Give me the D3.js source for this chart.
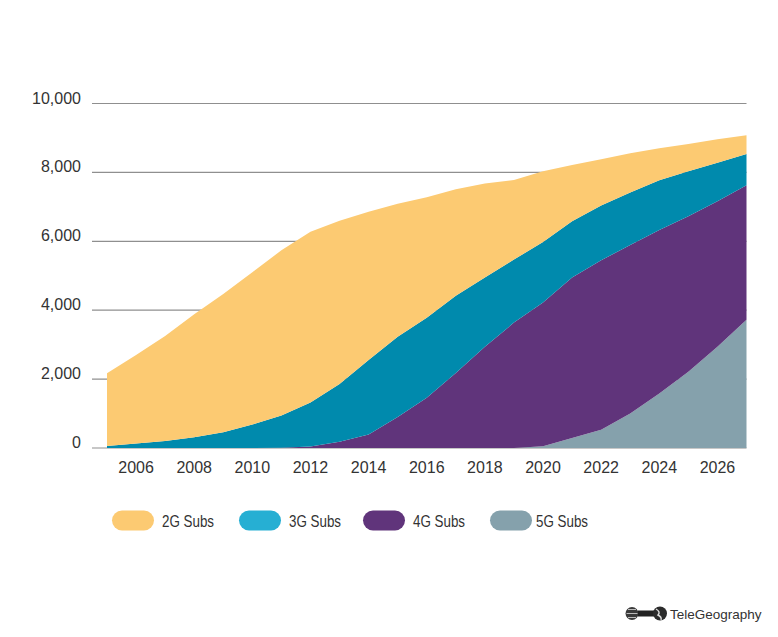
<!DOCTYPE html>
<html>
<head>
    <title>Mobile Subscriptions by Technology</title>
    <script src="https://d3js.org/d3.v7.min.js"></script>
    <style>
        body { margin: 0; background: #fff; }
        text { font-family: "Liberation Sans", Arial, Helvetica, sans-serif; }
        .grid line { stroke: #8f8f8f; stroke-width: 1.2; }
    </style>
</head>
<body>
    <svg width="778" height="637"></svg>
    <script>

        // Data (millions of subscriptions)
        const years = [2005, 2006, 2007, 2008, 2009, 2010, 2011, 2012, 2013, 2014, 2015, 2016,
                       2017, 2018, 2019, 2020, 2021, 2022, 2023, 2024, 2025, 2026, 2027];
        const subs2G = [2110, 2570, 3050, 3570, 4010, 4420, 4800, 4960, 4740, 4305, 3860, 3500,
                        3090, 2730, 2310, 2050, 1635, 1340, 1135, 930, 795, 680, 540];
        const subs3G = [60, 130, 200, 310, 460, 680, 935, 1280, 1680, 2165, 2330, 2320,
                        2240, 2010, 1830, 1760, 1630, 1590, 1530, 1440, 1300, 1120, 905];
        const subs4G = [0, 0, 0, 0, 0, 0, 5, 40, 180, 390, 900, 1460,
                        2180, 2940, 3640, 4170, 4660, 4920, 4885, 4750, 4515, 4220, 3910];
        const subs5G = [0, 0, 0, 0, 0, 0, 0, 0, 0, 0, 0, 0,
                        0, 0, 0, 50, 290, 530, 1005, 1580, 2215, 2940, 3720];

        const yTicks = [0, 2000, 4000, 6000, 8000, 10000];
        const xTicks = [2006, 2008, 2010, 2012, 2014, 2016, 2018, 2020, 2022, 2024, 2026];

        const seriesNames = ["2G Subs", "3G Subs", "4G Subs", "5G Subs"];
        const areaColors = ["#fcca72", "#008aad", "#60347b", "#85a1ac"];
        const legendColors = ["#fcca72", "#26afd3", "#60347b", "#85a1ac"];

        const table = years.map((yr, i) => ({
            year: yr, "2G Subs": subs2G[i], "3G Subs": subs3G[i], "4G Subs": subs4G[i], "5G Subs": subs5G[i]
        }));

        const svg = d3.select("svg");

        const x = d3.scaleLinear().domain([2005, 2027]).range([107, 746.5]);
        const y = d3.scaleLinear().domain([0, 10000]).range([448, 103.5]);

        // Grid lines behind the areas
        svg.append("g")
            .attr("class", "grid")
            .selectAll("line")
            .data(yTicks)
            .join("line")
            .attr("x1", 92)
            .attr("x2", 746.5)
            .attr("y1", d => y(d))
            .attr("y2", d => y(d));

        // Y labels sit on top of their line
        svg.append("g")
            .selectAll("text")
            .data(yTicks)
            .join("text")
            .attr("x", 81)
            .attr("y", d => y(d))
            .attr("text-anchor", "end")
            .style("font-size", "16px")
            .style("fill", "#333")
            .text(d => d3.format(",")(d));

        // Stack bottom-up: 5G, 4G, 3G, 2G
        const stackKeys = ["5G Subs", "4G Subs", "3G Subs", "2G Subs"];
        const stacked = d3.stack().keys(stackKeys)(table);

        const area = d3.area()
            .x(d => x(d.data.year))
            .y0(d => y(d[0]))
            .y1(d => y(d[1]));

        svg.append("g")
            .selectAll("path")
            .data(stacked)
            .join("path")
            .attr("fill", d => areaColors[seriesNames.indexOf(d.key)])
            .attr("d", area);

        // X axis labels (no tick marks)
        svg.append("g")
            .selectAll("text")
            .data(xTicks)
            .join("text")
            .attr("x", d => x(d))
            .attr("y", 473)
            .attr("text-anchor", "middle")
            .style("font-size", "16px")
            .style("fill", "#333")
            .text(d => d);

        // Legend
        const legendX = [112, 239, 363, 490];
        const legend = svg.append("g")
            .selectAll("g")
            .data(seriesNames)
            .join("g")
            .attr("transform", (d, i) => "translate(" + legendX[i] + ",510.5)");

        legend.append("rect")
            .attr("width", 42)
            .attr("height", 20)
            .attr("rx", 10)
            .attr("fill", (d, i) => legendColors[i]);

        legend.append("text")
            .attr("x", (d, i) => i === 3 ? 46 : 50)
            .attr("y", 16)
            .attr("textLength", 52)
            .attr("lengthAdjust", "spacingAndGlyphs")
            .style("font-size", "17px")
            .style("fill", "#333")
            .text(d => d);

        // TeleGeography mark
        const logo = svg.append("g").attr("transform", "translate(625,607)");
        logo.append("circle").attr("cx", 7).attr("cy", 6.5).attr("r", 6.5).attr("fill", "#3a3a3a");
        logo.append("path").attr("d", "M3,2.5 L11,2.5 M1.5,6.5 L12.5,6.5 M3,10.5 L11,10.5")
            .attr("stroke", "#bbb").attr("stroke-width", 1);
        logo.append("rect").attr("x", 13).attr("y", 3.5).attr("width", 16).attr("height", 6).attr("fill", "#222");
        logo.append("circle").attr("cx", 35).attr("cy", 6.5).attr("r", 7).attr("fill", "#2b2b2b");
        logo.append("path").attr("d", "M31,2 Q36,5 33,8 Q37,10 36,13")
            .attr("stroke", "#ddd").attr("stroke-width", 1.4).attr("fill", "none");

        svg.append("text")
            .attr("x", 670)
            .attr("y", 618.5)
            .style("font-size", "13.5px")
            .style("fill", "#333")
            .text("TeleGeography");

    </script>
</body>
</html>
